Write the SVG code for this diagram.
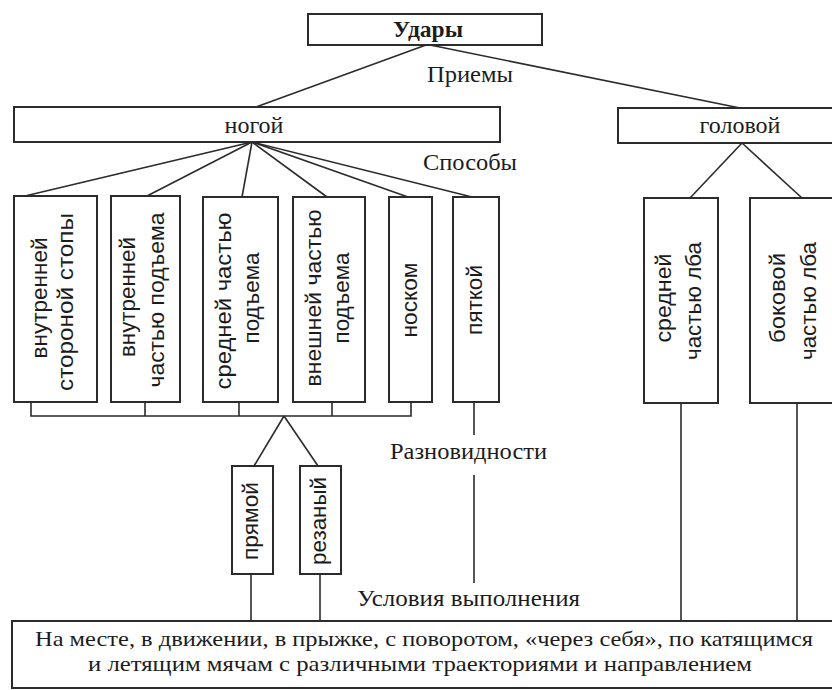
<svg xmlns="http://www.w3.org/2000/svg" width="832" height="690" viewBox="0 0 832 690">
  <style>
    .box { fill: #ffffff; stroke: #2b2b2b; stroke-width: 2; }
    .ln { fill: none; stroke: #2b2b2b; stroke-width: 1.6; }
    .serif { font-family: "Liberation Serif", "Times New Roman", serif; font-size: 24px; fill: #1c1c1c; }
    .bold { font-weight: bold; }
    .v { font-family: "Liberation Sans", Arial, sans-serif; font-size: 22px; fill: #1c1c1c; text-anchor: middle; }
    .lbl { font-family: "Liberation Serif", "Times New Roman", serif; font-size: 24px; fill: #1c1c1c; }
    .cond { font-family: "Liberation Serif", "Times New Roman", serif; font-size: 22px; fill: #1c1c1c; }
  </style>
  <rect width="832" height="690" fill="#ffffff"/>

  <!-- connectors -->
  <g id="connectors">
    <!-- Удары -> ногой / головой -->
    <line class="ln" x1="426" y1="45" x2="256" y2="107"/>
    <line class="ln" x1="430" y1="45" x2="740" y2="108"/>
    <!-- ногой -> способы -->
    <line class="ln" x1="252" y1="142" x2="25" y2="196"/>
    <line class="ln" x1="252" y1="142" x2="147" y2="196"/>
    <line class="ln" x1="252" y1="142" x2="242" y2="197"/>
    <line class="ln" x1="252" y1="142" x2="327" y2="197"/>
    <line class="ln" x1="252" y1="142" x2="408" y2="197"/>
    <line class="ln" x1="252" y1="142" x2="472" y2="197"/>
    <!-- головой -> способы -->
    <line class="ln" x1="742" y1="143" x2="690" y2="198"/>
    <line class="ln" x1="742" y1="143" x2="802" y2="198"/>
    <!-- общая шина под ударами ногой -->
    <path class="ln" d="M31 402 V416 H411 V402 M145 402 V416 M239 402 V416 M332 402 V416"/>
    <!-- разновидности -->
    <line class="ln" x1="284" y1="416" x2="254" y2="466"/>
    <line class="ln" x1="284" y1="416" x2="318" y2="466"/>
    <line class="ln" x1="251" y1="574" x2="251" y2="621"/>
    <line class="ln" x1="320" y1="574" x2="320" y2="621"/>
    <!-- пяткой: прерывистый спуск -->
    <line class="ln" x1="474" y1="402" x2="474" y2="435"/>
    <line class="ln" x1="474" y1="475" x2="474" y2="583"/>
    <!-- удары головой к условиям -->
    <line class="ln" x1="681" y1="403" x2="681" y2="621"/>
    <line class="ln" x1="797" y1="403" x2="797" y2="621"/>
  </g>

  <!-- level labels -->
  <g id="labels">
    <text class="lbl" x="427" y="82" textLength="86" lengthAdjust="spacingAndGlyphs">Приемы</text>
    <text class="lbl" x="423" y="170" textLength="94" lengthAdjust="spacingAndGlyphs">Способы</text>
    <text class="lbl" x="390" y="459" textLength="157" lengthAdjust="spacingAndGlyphs">Разновидности</text>
    <text class="lbl" x="357" y="606" textLength="223" lengthAdjust="spacingAndGlyphs">Условия выполнения</text>
  </g>

  <g id="n-udary">
    <rect class="box" x="308" y="14" width="234" height="31"/>
    <text class="serif bold" x="393" y="37" textLength="70" lengthAdjust="spacingAndGlyphs">Удары</text>
  </g>

  <g id="n-nogoy">
    <rect class="box" x="14" y="107" width="486" height="35"/>
    <text class="serif" x="254" y="133" text-anchor="middle">ногой</text>
  </g>

  <g id="n-golovoy">
    <rect class="box" x="618" y="108" width="240" height="35"/>
    <text class="serif" x="740" y="133" text-anchor="middle">головой</text>
  </g>

  <g id="n-inner-side">
    <rect class="box" x="14" y="196" width="83" height="206"/>
    <text class="v" transform="translate(47 298) rotate(-90)" textLength="121" lengthAdjust="spacingAndGlyphs">внутренней</text>
    <text class="v" transform="translate(73 302) rotate(-90)" textLength="178" lengthAdjust="spacingAndGlyphs">стороной стопы</text>
  </g>

  <g id="n-inner-instep">
    <rect class="box" x="111" y="196" width="69" height="206"/>
    <text class="v" transform="translate(135 297) rotate(-90)" textLength="120" lengthAdjust="spacingAndGlyphs">внутренней</text>
    <text class="v" transform="translate(164 300) rotate(-90)" textLength="175" lengthAdjust="spacingAndGlyphs">частью подъема</text>
  </g>

  <g id="n-mid-instep">
    <rect class="box" x="203" y="197" width="75" height="205"/>
    <text class="v" transform="translate(231 301) rotate(-90)" textLength="177" lengthAdjust="spacingAndGlyphs">средней частью</text>
    <text class="v" transform="translate(259 298) rotate(-90)" textLength="91" lengthAdjust="spacingAndGlyphs">подъема</text>
  </g>

  <g id="n-outer-instep">
    <rect class="box" x="293" y="197" width="72" height="205"/>
    <text class="v" transform="translate(321 298) rotate(-90)" textLength="177" lengthAdjust="spacingAndGlyphs">внешней частью</text>
    <text class="v" transform="translate(349 298) rotate(-90)" textLength="91" lengthAdjust="spacingAndGlyphs">подъема</text>
  </g>

  <g id="n-toe">
    <rect class="box" x="389" y="197" width="43" height="205"/>
    <text class="v" transform="translate(417 300) rotate(-90)" textLength="75" lengthAdjust="spacingAndGlyphs">носком</text>
  </g>

  <g id="n-heel">
    <rect class="box" x="453" y="197" width="46" height="205"/>
    <text class="v" transform="translate(482 300) rotate(-90)" textLength="70" lengthAdjust="spacingAndGlyphs">пяткой</text>
  </g>

  <g id="n-mid-forehead">
    <rect class="box" x="644" y="198" width="74" height="205"/>
    <text class="v" transform="translate(671 298) rotate(-90)" textLength="89" lengthAdjust="spacingAndGlyphs">средней</text>
    <text class="v" transform="translate(701 301) rotate(-90)" textLength="118" lengthAdjust="spacingAndGlyphs">частью лба</text>
  </g>

  <g id="n-side-forehead">
    <rect class="box" x="750" y="198" width="100" height="205"/>
    <text class="v" transform="translate(785 298) rotate(-90)" textLength="90" lengthAdjust="spacingAndGlyphs">боковой</text>
    <text class="v" transform="translate(816 301) rotate(-90)" textLength="118" lengthAdjust="spacingAndGlyphs">частью лба</text>
  </g>

  <g id="n-straight">
    <rect class="box" x="232" y="466" width="41" height="108"/>
    <text class="v" transform="translate(258 521) rotate(-90)" textLength="78" lengthAdjust="spacingAndGlyphs">прямой</text>
  </g>

  <g id="n-curled">
    <rect class="box" x="300" y="466" width="41" height="108"/>
    <text class="v" transform="translate(326 521) rotate(-90)" textLength="88" lengthAdjust="spacingAndGlyphs">резаный</text>
  </g>

  <g id="n-conditions">
    <rect class="box" x="12" y="621" width="840" height="67"/>
    <text class="cond" x="35" y="646" textLength="778" lengthAdjust="spacingAndGlyphs">На месте, в движении, в прыжке, с поворотом, «через себя», по катящимся</text>
    <text class="cond" x="88" y="671" textLength="664" lengthAdjust="spacingAndGlyphs">и летящим мячам с различными траекториями и направлением</text>
  </g>
</svg>
